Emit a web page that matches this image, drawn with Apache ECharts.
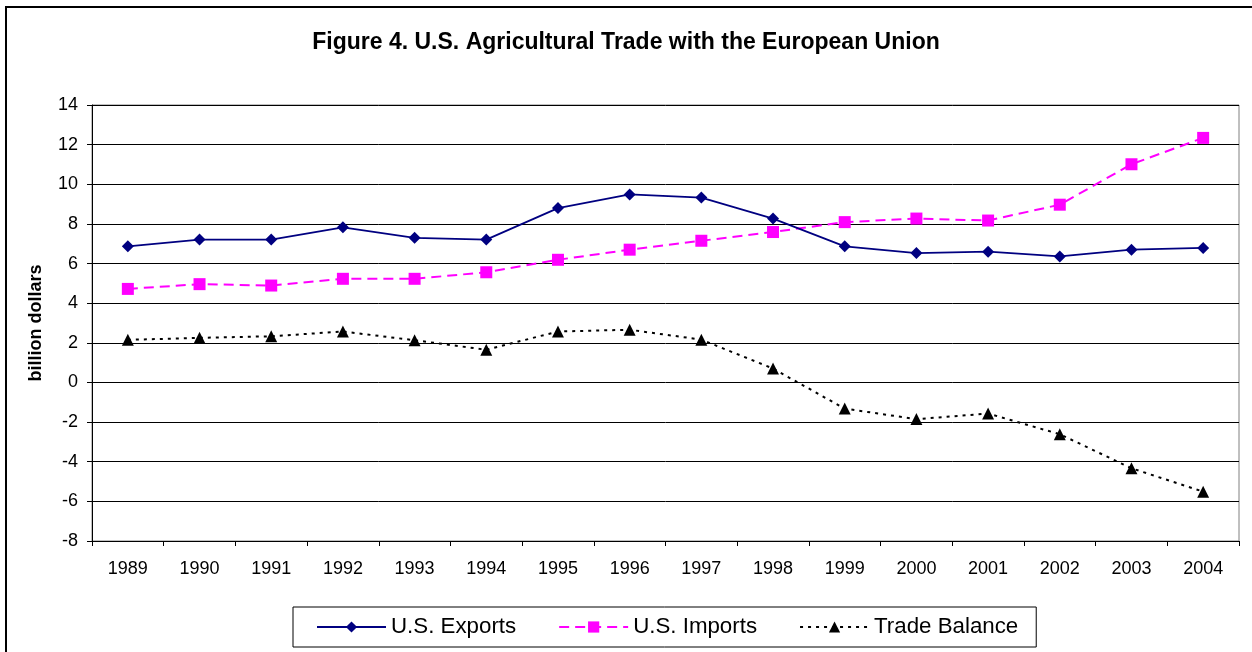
<!DOCTYPE html>
<html>
<head>
<meta charset="utf-8">
<script src="https://cdn.jsdelivr.net/npm/echarts@6/dist/echarts.min.js"></script>
<style>
html,body{margin:0;padding:0;background:#fff;}
#chart{width:1252px;height:652px;}
</style>
</head>
<body>
<div id="chart"></div>
<script>
const years = ['1989','1990','1991','1992','1993','1994','1995','1996','1997','1998','1999','2000','2001','2002','2003','2004'];
const usExports = [6.87, 7.21, 7.21, 7.83, 7.30, 7.21, 8.80, 9.49, 9.33, 8.27, 6.87, 6.53, 6.60, 6.36, 6.70, 6.79];
const usImports = [4.72, 4.96, 4.89, 5.23, 5.23, 5.56, 6.19, 6.70, 7.15, 7.59, 8.09, 8.27, 8.17, 8.97, 11.01, 12.34];
const tradeBalance = [2.15, 2.25, 2.33, 2.57, 2.13, 1.65, 2.57, 2.66, 2.16, 0.70, -1.32, -1.85, -1.57, -2.61, -4.33, -5.51];
const titleText = 'Figure 4. U.S. Agricultural Trade with the European Union';
const yAxisTitle = 'billion dollars';
const seriesNames = ['U.S. Exports', 'U.S. Imports', 'Trade Balance'];

const FONT = '"Liberation Sans", Arial, sans-serif';
const chart = echarts.init(document.getElementById('chart'), null, {renderer: 'canvas'});
chart.setOption({
  backgroundColor: '#fff',
  animation: false,
  textStyle: {fontFamily: FONT, color: '#000'},
  graphic: [{
    type: 'rect', silent: true, z: -1,
    shape: {x: 6, y: 7, width: 1260, height: 660},
    style: {fill: 'none', stroke: '#000', lineWidth: 2}
  }],
  title: {
    text: titleText,
    left: 'center',
    top: 26,
    textStyle: {fontFamily: FONT, fontSize: 23, fontWeight: 'bold', color: '#000'}
  },
  grid: {
    left: 92, right: 13, top: 105, bottom: 111,
    show: true, borderColor: '#808080', borderWidth: 1, backgroundColor: 'transparent'
  },
  legend: {
    left: 293, top: 607,
    padding: [9, 18, 9, 23],
    borderColor: '#000', borderWidth: 1,
    itemWidth: 69, itemHeight: 14, itemGap: 42,
    textStyle: {fontFamily: FONT, fontSize: 22.3, color: '#000'},
    data: seriesNames
  },
  xAxis: {
    type: 'category',
    data: years,
    boundaryGap: true,
    axisLine: {show: true, onZero: false, lineStyle: {color: '#000', width: 1}},
    axisTick: {show: true, alignWithLabel: false, length: 5, lineStyle: {color: '#000'}, interval: 0},
    axisLabel: {fontFamily: FONT, fontSize: 18, color: '#000', margin: 19, interval: 0},
    splitLine: {show: false}
  },
  yAxis: {
    type: 'value',
    min: -8, max: 14, interval: 2,
    name: yAxisTitle,
    nameLocation: 'middle',
    nameGap: 47,
    nameTextStyle: {fontFamily: FONT, fontSize: 18, fontWeight: 'bold', color: '#000'},
    axisLine: {show: true, lineStyle: {color: '#000', width: 1}},
    axisTick: {show: true, length: 5, lineStyle: {color: '#000'}},
    axisLabel: {fontFamily: FONT, fontSize: 18, color: '#000', margin: 14},
    splitLine: {show: true, lineStyle: {color: '#000', width: 1}}
  },
  series: [
    {
      name: seriesNames[0], type: 'line', data: usExports,
      symbol: 'diamond', symbolSize: 12,
      itemStyle: {color: '#000080'},
      lineStyle: {color: '#000080', width: 1.8, type: 'solid'},
      z: 3
    },
    {
      name: seriesNames[1], type: 'line', data: usImports,
      symbol: 'rect', symbolSize: 12,
      itemStyle: {color: '#FF00FF'},
      lineStyle: {color: '#FF00FF', width: 2, type: [10, 6]},
      z: 2
    },
    {
      name: seriesNames[2], type: 'line', data: tradeBalance,
      symbol: 'triangle', symbolSize: 12,
      itemStyle: {color: '#000'},
      lineStyle: {color: '#000', width: 2, type: [3, 5]},
      z: 2
    }
  ]
});
</script>
</body>
</html>
